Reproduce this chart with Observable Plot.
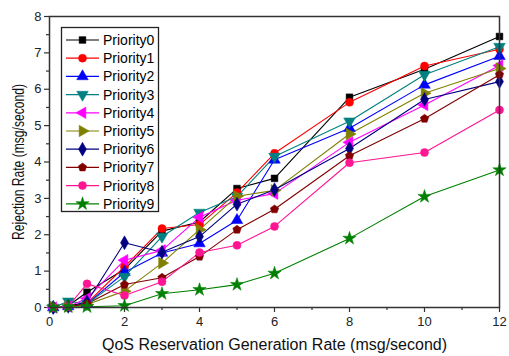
<!DOCTYPE html>
<html>
<head>
<meta charset="utf-8">
<script src="https://cdn.jsdelivr.net/npm/d3@7"></script>
<script src="https://cdn.jsdelivr.net/npm/@observablehq/plot@0.6"></script>
<style>
  html, body { margin: 0; padding: 0; background: #fff; }
  #wrap { position: relative; width: 509px; height: 356px; font-family: "Liberation Sans", Arial, sans-serif; }
  #legend { position: absolute; left: 0; top: 0; pointer-events: none; }
</style>
</head>
<body>
<div id="wrap"></div>
<script>
// ---- data ----
const rates = [0.1, 0.5, 1, 2, 3, 4, 5, 6, 8, 10, 12];
const seriesNames = ["Priority0","Priority1","Priority2","Priority3","Priority4","Priority5","Priority6","Priority7","Priority8","Priority9"];
const priority0 = [0, 0.05, 0.42, 1.05, 2.1, 2.35, 3.27, 3.55, 5.78, 6.55, 7.45];
const priority1 = [0, 0.05, 0.12, 1.12, 2.17, 2.28, 3.16, 4.24, 5.64, 6.64, 7.1];
const priority2 = [0, 0.03, 0.1, 0.97, 1.5, 1.76, 2.4, 4.06, 4.93, 6.12, 6.91];
const priority3 = [0, 0.17, 0.1, 0.85, 1.95, 2.61, 3.05, 4.15, 5.12, 6.4, 7.17];
const priority4 = [0, 0.03, 0.25, 1.3, 1.57, 2.48, 2.95, 3.13, 4.54, 5.57, 6.65];
const priority5 = [0.02, 0.03, 0.08, 0.45, 1.22, 2.14, 3.06, 3.22, 4.77, 5.89, 6.57];
const priority6 = [0, 0.03, 0.15, 1.78, 1.52, 1.95, 2.84, 3.24, 4.37, 5.72, 6.21];
const priority7 = [0.02, 0.03, 0.1, 0.63, 0.82, 1.4, 2.14, 2.7, 4.17, 5.19, 6.4];
const priority8 = [0, 0.03, 0.65, 0.33, 0.71, 1.51, 1.71, 2.23, 3.98, 4.26, 5.43];
const priority9 = [0, 0.02, 0.02, 0.05, 0.38, 0.49, 0.63, 0.94, 1.9, 3.05, 3.78];
const seriesValues = [priority0, priority1, priority2, priority3, priority4, priority5, priority6, priority7, priority8, priority9];
const xMajorTicks = [0, 2, 4, 6, 8, 10, 12];
const xMinorTicks = [1, 3, 5, 7, 9, 11];
const yMajorTicks = [0, 1, 2, 3, 4, 5, 6, 7, 8];
const yMinorTicks = [0.5, 1.5, 2.5, 3.5, 4.5, 5.5, 6.5, 7.5];
const xTitle = "QoS Reservation Generation Rate (msg/second)";
const yTitle = "Rejection Rate (msg/second)";

// ---- styles ----
const colors = ["#000000","#ff0000","#0000ff","#008080","#ff00ff","#808000","#000080","#800000","#ff1493","#008000"];
const pentagon = {
  draw(ctx, size) {
    const R = Math.sqrt(size / Math.PI) * 1.1;
    for (let i = 0; i < 5; i++) {
      const a = -Math.PI / 2 + i * 2 * Math.PI / 5;
      const px = R * Math.cos(a), py = R * Math.sin(a);
      if (i === 0) ctx.moveTo(px, py); else ctx.lineTo(px, py);
    }
    ctx.closePath();
  }
};
const symbols = [
  {s: d3.symbolSquare, rot: 0, r: 3.8},
  {s: d3.symbolCircle, rot: 0, r: 4},
  {s: d3.symbolTriangle, rot: 0, r: 4.3},
  {s: d3.symbolTriangle, rot: 180, r: 4.3},
  {s: d3.symbolTriangle, rot: -90, r: 4.3},
  {s: d3.symbolTriangle, rot: 90, r: 4.3},
  {s: d3.symbolDiamond, rot: 0, r: 4.2},
  {s: pentagon, rot: 0, r: 4},
  {s: d3.symbolCircle, rot: 0, r: 4},
  {s: d3.symbolStar, rot: 0, r: 4.2}
];

const rows = [];
seriesNames.forEach((name, i) => {
  rates.forEach((x, j) => rows.push({series: name, idx: i, x, y: seriesValues[i][j]}));
});

const marks = [];
seriesNames.forEach((name, i) => {
  const data = rows.filter(d => d.idx === i);
  marks.push(Plot.line(data, {x: "x", y: "y", stroke: colors[i], strokeWidth: 1.1}));
});
seriesNames.forEach((name, i) => {
  const data = rows.filter(d => d.idx === i);
  marks.push(Plot.dot(data, {x: "x", y: "y", fill: colors[i], stroke: colors[i], strokeWidth: 0.5,
    symbol: symbols[i].s, rotate: symbols[i].rot, r: symbols[i].r}));
});

const axisColor = "#333";
const chart = Plot.plot({
  width: 509,
  height: 356,
  marginLeft: 49,
  marginRight: 10,
  marginTop: 16,
  marginBottom: 49,
  style: {fontFamily: "Liberation Sans, Arial, sans-serif", fontSize: "13px", color: "#222", background: "#fff"},
  x: {domain: [0, 12]},
  y: {domain: [0, 8]},
  marks: [
    Plot.axisX({ticks: xMajorTicks, tickSize: 5, tickPadding: 4, tickFormat: d => String(d), stroke: axisColor, strokeWidth: 1.2,
      label: xTitle, labelAnchor: "center", labelOffset: 42, fontSize: 13}),
    Plot.axisX({ticks: xMinorTicks, tickSize: 3, text: null, stroke: axisColor, strokeWidth: 1.2, label: null}),
    Plot.axisY({ticks: yMajorTicks, tickSize: 5, tickPadding: 3, tickFormat: d => String(d), stroke: axisColor, strokeWidth: 1.2,
      label: yTitle, labelAnchor: "center", labelOffset: 37, fontSize: 13}),
    Plot.axisY({ticks: yMinorTicks, tickSize: 3, text: null, stroke: axisColor, strokeWidth: 1.2, label: null}),
    ...marks,
    Plot.frame({stroke: axisColor, strokeWidth: 1.5})
  ]
});
// axis titles: no arrows, reference sizes
const xl = chart.querySelector('[aria-label="x-axis label"] text');
if (xl) { xl.textContent = xTitle; xl.style.fontSize = "16px"; xl.setAttribute("fill", "#111"); }
const yl = chart.querySelector('[aria-label="y-axis label"] text');
if (yl) {
  yl.textContent = yTitle; yl.style.fontSize = "16px"; yl.setAttribute("fill", "#111");
  yl.setAttribute("textLength", 156); yl.setAttribute("lengthAdjust", "spacingAndGlyphs");
}
document.getElementById("wrap").appendChild(chart);

// ---- legend overlay ----
const legend = d3.select("#wrap").append("svg")
  .attr("id", "legend").attr("width", 509).attr("height", 356);
legend.append("rect")
  .attr("x", 61.5).attr("y", 27.5).attr("width", 97).attr("height", 184)
  .attr("fill", "#fff").attr("stroke", "#222").attr("stroke-width", 1.3);
seriesNames.forEach((name, i) => {
  const cy = 40 + i * 18.2;
  const g = legend.append("g");
  g.append("line").attr("x1", 66).attr("x2", 99).attr("y1", cy).attr("y2", cy)
    .attr("stroke", colors[i]).attr("stroke-width", 1.2);
  const sz = Math.PI * symbols[i].r * symbols[i].r;
  g.append("path").attr("d", d3.symbol(symbols[i].s, sz)())
    .attr("transform", `translate(82.5,${cy}) rotate(${symbols[i].rot})`)
    .attr("fill", colors[i]).attr("stroke", colors[i]).attr("stroke-width", 0.5);
  g.append("text").attr("x", 103).attr("y", cy).attr("dy", "0.36em")
    .attr("font-family", "Liberation Sans, Arial, sans-serif").attr("font-size", 14).attr("fill", "#000")
    .text(name);
});
</script>
</body>
</html>
